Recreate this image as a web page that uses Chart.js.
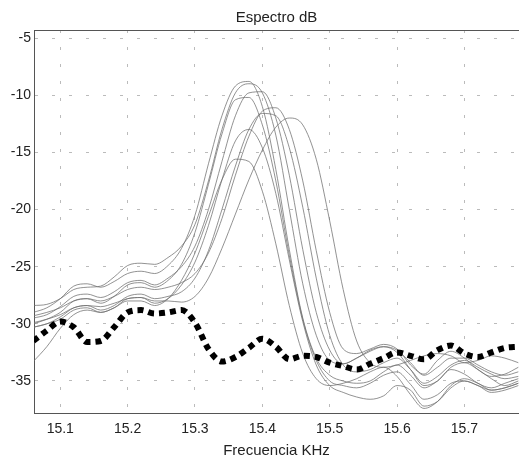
<!DOCTYPE html>
<html>
<head>
<meta charset="utf-8">
<script src="https://cdn.jsdelivr.net/npm/chart.js@4"></script>
<style>
    html, body { margin: 0; padding: 0; background: #fff; overflow: hidden; }
    #wrap { width: 519px; height: 458px; }
</style>
</head>
<body>
<div id="wrap"><canvas id="spectrumChart" width="519" height="458"></canvas></div>
<script>
// frequency grid (kHz)
const freqs = [15.06, 15.08, 15.10, 15.12, 15.14, 15.16, 15.18, 15.20, 15.22, 15.24,
    15.26, 15.28, 15.30, 15.32, 15.34, 15.36, 15.38, 15.40, 15.42, 15.44,
    15.46, 15.48, 15.50, 15.52, 15.54, 15.56, 15.58, 15.60, 15.62, 15.64,
    15.66, 15.68, 15.70, 15.72, 15.74, 15.76, 15.78];

// thick dotted reference spectrum
const refSpectrum = [-31.5, -30.6, -29.8, -30.3, -31.6, -31.5, -30.3, -29.0, -28.8, -29.1,
    -29.0, -28.8, -29.9, -32.2, -33.3, -32.9, -32.1, -31.3, -32.0, -33.1,
    -32.8, -32.9, -33.4, -33.7, -34.0, -33.5, -33.0, -32.5, -32.8, -33.1,
    -32.3, -31.9, -32.6, -32.9, -32.5, -32.1, -32.0];

// thin spectra
const spec1 = [-29.0, -28.6, -27.8, -26.7, -26.5, -26.8, -26.3, -25.6, -25.4, -25.6,
    -24.9, -23.4, -20.5, -16.0, -11.8, -9.2, -8.8, -11.0, -16.5, -23.5,
    -29.5, -33.0, -34.5, -35.0, -35.2, -35.0, -34.2, -33.6, -34.5, -35.6,
    -35.0, -34.0, -34.4, -35.2, -35.6, -35.2, -34.8];
const spec2 = [-28.4, -28.3, -27.8, -27.0, -26.8, -26.7, -25.9, -24.9, -24.7, -24.8,
    -24.2, -23.2, -21.3, -17.5, -13.0, -9.8, -9.0, -9.8, -13.5, -20.0,
    -26.5, -31.0, -33.2, -33.5, -33.0, -32.4, -32.0, -32.3, -33.4, -34.5,
    -33.8, -33.0, -33.0, -33.6, -34.2, -34.5, -34.2];
const spec3 = [-29.5, -29.2, -28.5, -27.6, -27.4, -27.7, -27.2, -26.4, -26.2, -26.6,
    -26.0, -25.0, -23.2, -20.0, -15.8, -11.8, -9.8, -9.7, -12.0, -17.0,
    -23.5, -29.0, -32.3, -33.5, -33.0, -32.3, -32.0, -32.5, -34.0, -35.4,
    -35.0, -33.8, -33.4, -34.0, -34.8, -35.4, -35.0];
const spec4 = [-30.0, -29.6, -29.0, -28.0, -27.8, -28.2, -27.6, -26.6, -26.4, -26.8,
    -26.2, -24.8, -22.0, -17.8, -13.4, -10.4, -10.2, -12.6, -17.5, -24.0,
    -29.6, -33.2, -35.0, -35.4, -35.6, -35.2, -34.5, -34.2, -35.3, -36.6,
    -36.2, -35.2, -35.0, -35.4, -35.8, -35.6, -35.2];
const spec5 = [-29.3, -29.0, -28.6, -28.0, -27.8, -28.0, -27.6, -27.0, -26.8, -27.0,
    -26.8, -26.4, -25.6, -23.8, -20.8, -17.0, -13.6, -11.4, -11.1, -13.0,
    -17.5, -23.6, -29.0, -32.2, -32.6, -32.2, -31.8, -32.2, -33.6, -34.4,
    -33.2, -32.4, -33.0, -34.0, -34.6, -34.4, -33.8];
const spec6 = [-30.3, -30.0, -29.4, -28.6, -28.4, -28.8, -28.4, -27.6, -27.4, -27.8,
    -27.6, -27.2, -26.0, -23.6, -20.0, -16.2, -13.0, -11.6, -11.8, -14.6,
    -19.8, -26.0, -31.0, -33.6, -34.2, -34.0, -33.4, -33.0, -34.0, -35.2,
    -34.6, -33.6, -33.2, -33.8, -34.4, -34.8, -34.6];
const spec7 = [-29.9, -29.6, -29.2, -28.6, -28.4, -28.5, -28.2, -27.8, -27.7, -28.0,
    -28.0, -28.1, -27.6, -26.0, -23.4, -20.4, -17.4, -14.8, -12.8, -12.0,
    -12.6, -15.6, -21.0, -27.0, -31.5, -33.4, -33.8, -33.6, -33.2, -32.8,
    -32.6, -32.8, -33.4, -33.2, -32.8, -33.0, -33.4];
const spec8 = [-30.3, -30.0, -29.6, -28.8, -28.6, -29.0, -28.6, -27.8, -27.7, -28.2,
    -27.8, -26.6, -24.6, -21.4, -17.4, -14.0, -13.0, -14.6, -18.6, -24.4,
    -29.8, -33.6, -35.4, -36.0, -36.4, -36.6, -36.3, -35.4, -35.8, -37.2,
    -36.8, -35.6, -35.0, -35.4, -36.0, -35.8, -35.4];
const spec9 = [-33.3, -32.0, -30.4, -29.2, -28.8, -29.0, -28.6, -28.0, -28.0, -28.4,
    -27.8, -26.2, -23.8, -20.6, -17.4, -15.6, -15.8, -18.4, -23.0, -28.4,
    -32.6, -34.8, -35.4, -35.2, -34.8, -34.2, -33.8, -34.6, -36.2, -37.4,
    -36.8, -35.4, -34.8, -35.2, -35.8, -35.6, -35.2];

const thinSpectra = [spec1, spec2, spec3, spec4, spec5, spec6, spec7, spec8, spec9];

const xTicks = [15.1, 15.2, 15.3, 15.4, 15.5, 15.6, 15.7];
const yTicks = [-35, -30, -25, -20, -15, -10, -5];

const toPoints = vals => freqs.map((f, i) => ({ x: f, y: vals[i] }));

// top frame line (the plot box is open on the right, it runs off the picture)
const topFrame = {
    id: 'topFrame',
    afterDraw(chart) {
        const { ctx, chartArea } = chart;
        ctx.save();
        ctx.strokeStyle = '#555';
        ctx.lineWidth = 1;
        ctx.beginPath();
        ctx.moveTo(chartArea.left, chartArea.top + 0.5);
        ctx.lineTo(chartArea.right, chartArea.top + 0.5);
        ctx.stroke();
        ctx.restore();
    }
};

const datasets = [{
    label: 'referencia',
    data: toPoints(refSpectrum),
    borderColor: '#000',
    borderWidth: 6,
    borderDash: [6, 5],
    borderCapStyle: 'butt',
    pointRadius: 0,
    cubicInterpolationMode: 'monotone',
    fill: false
}];

thinSpectra.forEach((vals, i) => {
    datasets.push({
        label: `espectro ${i + 1}`,
        data: toPoints(vals),
        borderColor: 'rgba(110,110,110,0.75)',
        borderWidth: 1,
        pointRadius: 0,
        cubicInterpolationMode: 'monotone',
        fill: false
    });
});

Chart.defaults.font.family = '"Liberation Sans", Arial, sans-serif';
Chart.defaults.color = '#222';

new Chart(document.getElementById('spectrumChart'), {
    type: 'line',
    data: { datasets },
    options: {
        responsive: false,
        animation: false,
        layout: { padding: 0 },
        plugins: {
            legend: { display: false },
            tooltip: { enabled: false },
            title: {
                display: true,
                fullSize: false,
                text: 'Espectro dB',
                font: { size: 15, weight: 'normal' },
                color: '#222',
                padding: { top: 9, bottom: 3 }
            }
        },
        scales: {
            x: {
                type: 'linear',
                min: 15.061,
                max: 15.781,
                afterBuildTicks: s => { s.ticks = xTicks.map(v => ({ value: v })); },
                afterFit: s => { s.height = 45; },
                ticks: {
                    callback: v => v.toFixed(1),
                    font: { size: 14 },
                    color: '#222',
                    padding: 8,
                    maxRotation: 0
                },
                grid: { color: '#bbb', lineWidth: 1, drawTicks: false },
                border: { display: true, color: '#555', width: 1, dash: [3, 14] },
                title: {
                    display: true,
                    text: 'Frecuencia KHz',
                    font: { size: 15, lineHeight: 1.0 },
                    color: '#222',
                    padding: { top: 0, bottom: 0 }
                }
            },
            y: {
                type: 'linear',
                min: -37.8,
                max: -4.3,
                afterBuildTicks: s => { s.ticks = yTicks.map(v => ({ value: v })); },
                afterFit: s => { s.width = 34; },
                ticks: {
                    font: { size: 14 },
                    color: '#222',
                    padding: 3
                },
                grid: { color: '#bbb', lineWidth: 1, drawTicks: false },
                border: { display: true, color: '#555', width: 1, dash: [3, 14] }
            }
        }
    },
    plugins: [topFrame]
});
</script>
</body>
</html>
